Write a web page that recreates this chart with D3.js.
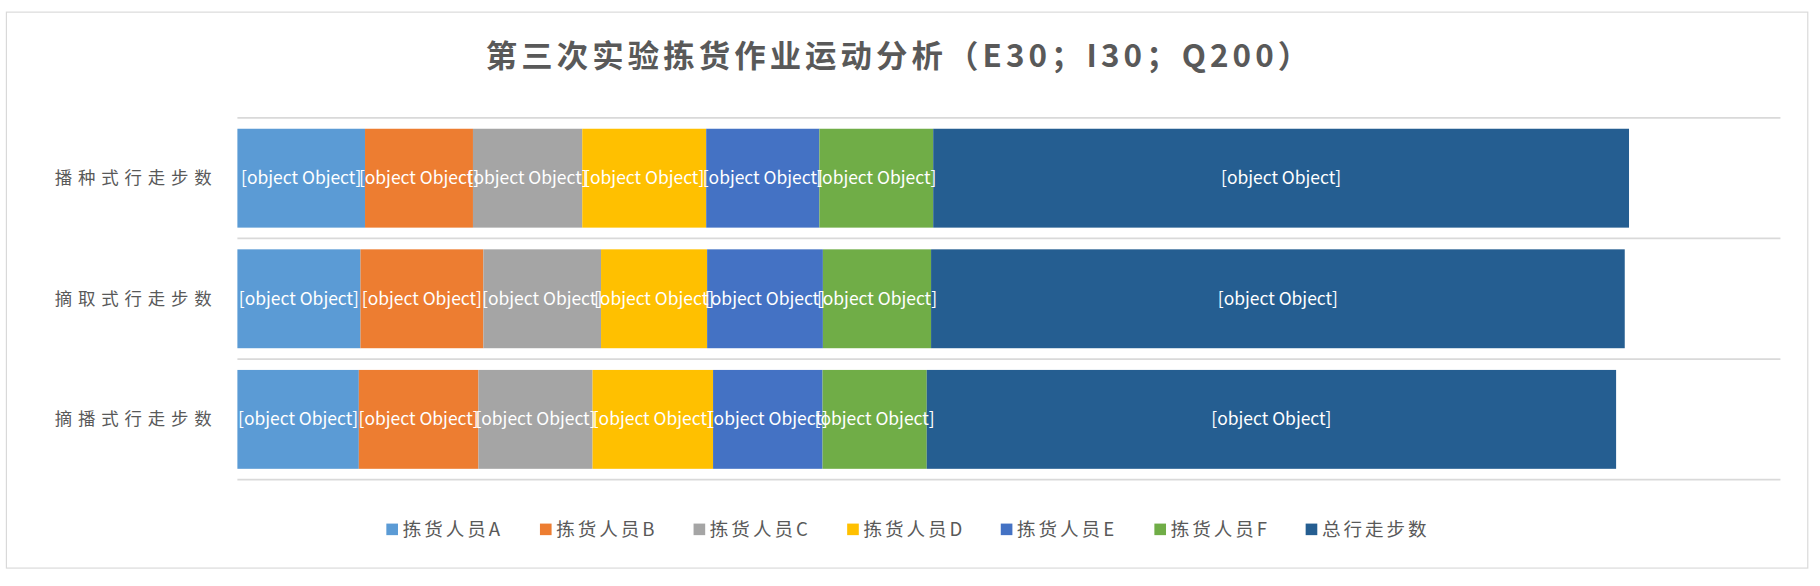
<!DOCTYPE html>
<html><head><meta charset="utf-8">
<script src="https://cdn.jsdelivr.net/npm/d3@7.9.0/dist/d3.min.js"></script>
<style>body{margin:0;background:#fff}svg{display:block}</style>
</head><body><div id="chart"></div>
<script>
const categories = ["播种式行走步数", "摘取式行走步数", "摘播式行走步数"];
const seriesNames = ["拣货人员A", "拣货人员B", "拣货人员C", "拣货人员D", "拣货人员E", "拣货人员F", "总行走步数"];
const colors = ["#5B9BD5", "#ED7D31", "#A5A5A5", "#FFC000", "#4472C4", "#70AD47", "#255E91"];
const values = [
    [4963, 4197, 4250, 4819, 4401, 4426, 27056],
    [4786, 4778, 4576, 4125, 4502, 4206, 26973],
    [4722, 4651, 4437, 4686, 4257, 4052, 26805]
];

const W = 1564, H = 507;
const font = "'Noto Sans CJK SC', 'Noto Sans', sans-serif";
const svg = d3.select("#chart").append("svg")
    .attr("width", 1820).attr("height", 586)
    .attr("viewBox", `0 0 ${W} ${H}`)
    .attr("preserveAspectRatio", "none");

// outer frame
svg.append("rect").attr("x", 5.5).attr("y", 10.5).attr("width", 1548).attr("height", 481)
    .attr("fill", "#fff").attr("stroke", "#d9d9d9");

svg.append("text").attr("x", 773).attr("y", 58).attr("text-anchor", "middle")
    .attr("font-family", font).attr("font-size", 27).attr("font-weight", "bold")
    .attr("fill", "#595959").attr("letter-spacing", 3.5)
    .text("第三次实验拣货作业运动分析（E30；I30；Q200）");

const x = d3.scaleLinear().domain([0, 60000]).range([204, 1530]);
const y = d3.scaleBand().domain(categories).range([102, 415]).paddingInner(0.18).paddingOuter(0.09);

// category boundary lines
const bounds = [0, 1, 2, 3].map(i => 102 + i * (313 / 3));
svg.selectAll("line.grid").data(bounds).enter().append("line")
    .attr("x1", 204).attr("x2", 1530).attr("y1", d => d).attr("y2", d => d)
    .attr("stroke", "#d9d9d9").attr("stroke-width", 1.5);

const rows = svg.selectAll("g.row").data(values).enter().append("g")
    .attr("transform", (d, i) => `translate(0,${y(categories[i])})`);

rows.each(function (row) {
    let acc = 0;
    const segs = row.map((v, j) => { const s = { v, j, x0: acc }; acc += v; return s; });
    const g = d3.select(this);
    g.selectAll("rect").data(segs).enter().append("rect")
        .attr("x", d => x(d.x0)).attr("width", d => x(d.x0 + d.v) - x(d.x0))
        .attr("y", 0).attr("height", y.bandwidth())
        .attr("fill", d => colors[d.j]);
    g.selectAll("text").data(segs).enter().append("text")
        .attr("x", d => x(d.x0 + d.v / 2)).attr("y", y.bandwidth() / 2 + 5)
        .attr("text-anchor", "middle").attr("font-family", font).attr("font-size", 15)
        .attr("fill", "#fff").text(d => d);
});

svg.selectAll("text.cat").data(categories).enter().append("text")
    .attr("x", 187).attr("y", d => y(d) + y.bandwidth() / 2 + 5)
    .attr("text-anchor", "end").attr("font-family", font).attr("font-size", 15)
    .attr("fill", "#595959").attr("letter-spacing", 5).text(d => d);

// legend
const legendX = [332, 464, 596, 728, 860, 992, 1122];
const lg = svg.selectAll("g.leg").data(seriesNames).enter().append("g")
    .attr("transform", (d, i) => `translate(${legendX[i]},459)`);
lg.append("rect").attr("x", 0).attr("y", -6).attr("width", 10).attr("height", 10)
    .attr("fill", (d, i) => colors[i]);
lg.append("text").attr("x", 14).attr("y", 5).attr("font-family", font).attr("font-size", 16)
    .attr("fill", "#595959").attr("letter-spacing", 2.5).text(d => d);
</script></body></html>
